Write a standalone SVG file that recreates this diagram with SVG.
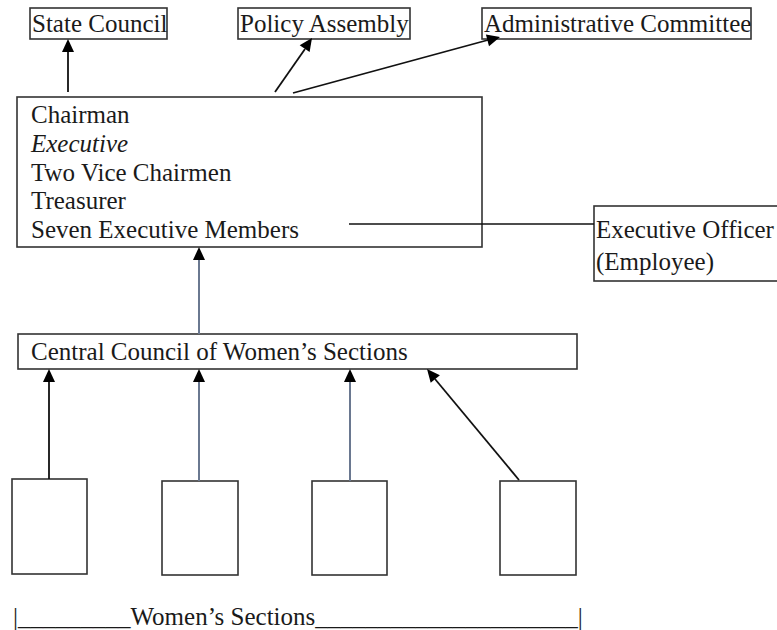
<svg xmlns="http://www.w3.org/2000/svg" width="777" height="630" viewBox="0 0 777 630">
<rect width="777" height="630" fill="#fff"/>
<g fill="#fff" stroke="#333" stroke-width="1.6">
<g id="state-council">
<rect x="30" y="8" width="137" height="31"/>
<text font-family="Liberation Serif" style="font-family:'Liberation Serif',serif" font-size="25" fill="#1a1a1a" stroke="none" x="32" y="32">State Council</text>
</g>
<g id="policy-assembly">
<rect x="238" y="8" width="172" height="31"/>
<text font-family="Liberation Serif" style="font-family:'Liberation Serif',serif" font-size="25" fill="#1a1a1a" stroke="none" x="240" y="32">Policy Assembly</text>
</g>
<g id="administrative-committee">
<rect x="482" y="8" width="269" height="31"/>
<text font-family="Liberation Serif" style="font-family:'Liberation Serif',serif" font-size="25" fill="#1a1a1a" stroke="none" x="484" y="32">Administrative Committee</text>
</g>
<g id="executive">
<rect x="17" y="97" width="465" height="150"/>
<text font-family="Liberation Serif" style="font-family:'Liberation Serif',serif" font-size="25" fill="#1a1a1a" stroke="none" x="31" y="123">Chairman</text>
<text font-family="Liberation Serif" style="font-family:'Liberation Serif',serif;font-style:italic" font-size="25" fill="#1a1a1a" stroke="none" x="31" y="152">Executive</text>
<text font-family="Liberation Serif" style="font-family:'Liberation Serif',serif" font-size="25" fill="#1a1a1a" stroke="none" x="31" y="181">Two Vice Chairmen</text>
<text font-family="Liberation Serif" style="font-family:'Liberation Serif',serif" font-size="25" fill="#1a1a1a" stroke="none" x="31" y="209">Treasurer</text>
<text font-family="Liberation Serif" style="font-family:'Liberation Serif',serif" font-size="25" fill="#1a1a1a" stroke="none" x="31" y="238">Seven Executive Members</text>
</g>
<g id="executive-officer">
<rect x="594" y="206" width="200" height="75"/>
<text font-family="Liberation Serif" style="font-family:'Liberation Serif',serif" font-size="25" fill="#1a1a1a" stroke="none" x="596" y="238">Executive Officer</text>
<text font-family="Liberation Serif" style="font-family:'Liberation Serif',serif" font-size="25" fill="#1a1a1a" stroke="none" x="596" y="270">(Employee)</text>
</g>
<g id="central-council">
<rect x="18" y="334" width="559" height="35"/>
<text font-family="Liberation Serif" style="font-family:'Liberation Serif',serif" font-size="25" fill="#1a1a1a" stroke="none" x="31" y="360">Central Council of Women’s Sections</text>
</g>
<g id="section-1"><rect x="12" y="479" width="75" height="95"/></g>
<g id="section-2"><rect x="162" y="481" width="76" height="94"/></g>
<g id="section-3"><rect x="312" y="481" width="75" height="94"/></g>
<g id="section-4"><rect x="500" y="481" width="76" height="94"/></g>
</g>
<g id="connectors">
<g stroke="#111" stroke-width="1.8" fill="none">
<line x1="68" y1="92" x2="68" y2="50"/>
<line x1="275" y1="92" x2="305" y2="49"/>
<line x1="293" y1="93" x2="488" y2="40"/>
<line x1="49" y1="479" x2="49" y2="380"/>
<line x1="519" y1="480" x2="435" y2="379"/>
</g>
<line stroke="#111" stroke-width="1.3" x1="349" y1="224" x2="594" y2="224"/>
<g stroke="#6a7890" stroke-width="2" fill="none">
<line x1="199" y1="334" x2="199" y2="258"/>
<line x1="199" y1="481" x2="199" y2="380"/>
<line x1="350" y1="481" x2="350" y2="380"/>
</g>
<g fill="#000" stroke="none">
<polygon points="68,39 62,52 74,52"/>
<polygon points="312,38 309.6,52.1 299.7,45.3"/>
<polygon points="500,37 489,46.2 485.9,34.6"/>
<polygon points="199,247 193,260 205,260"/>
<polygon points="49,369 43,382 55,382"/>
<polygon points="199,369 193,382 205,382"/>
<polygon points="350,369 344,382 356,382"/>
<polygon points="427,369 439.9,375.2 430.7,382.8"/>
</g>
</g>
<g id="womens-sections-label">
<text font-family="Liberation Serif" style="font-family:'Liberation Serif',serif" font-size="25" fill="#1a1a1a" x="13" y="625">|_________Women’s Sections_____________________|</text>
</g>
</svg>
